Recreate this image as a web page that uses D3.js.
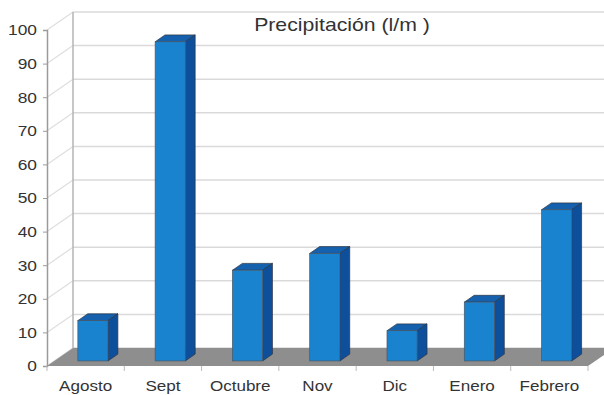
<!DOCTYPE html>
<html>
<head>
<meta charset="utf-8">
<script src="https://cdn.jsdelivr.net/npm/d3@7"></script>
<style>
  body { margin: 0; background: #fff; }
  text { font-family: "Liberation Sans", Arial, sans-serif; fill: #333; }
</style>
</head>
<body>
<div id="chart"></div>
<script>
var months = ["Agosto", "Sept", "Octubre", "Nov", "Dic", "Enero", "Febrero"];
var precip = [12, 95, 27, 32, 9, 17.5, 45];
var yTicks = [0, 10, 20, 30, 40, 50, 60, 70, 80, 90, 100];
var title = "Precipitación (l/m )";

var width = 604, height = 395;
var DX = 26, DY = -18;      // full depth of the 3d box
var f0 = 0.28, f1 = 0.66;   // bar depth, as fraction of box depth

var svg = d3.select("#chart")
    .append("svg")
    .attr("width", width)
    .attr("height", height);

var x = d3.scaleBand()
    .domain(months)
    .range([47, 588])
    .paddingInner(0.61)
    .paddingOuter(0.305);

var y = d3.scaleLinear()
    .domain([0, 100])
    .range([366, 30]);

var x0 = 47, x1 = 588;

// back wall gridlines
svg.selectAll(".grid")
    .data(yTicks)
    .enter()
    .append("line")
    .attr("x1", x0 + DX)
    .attr("x2", x1 + DX)
    .attr("y1", function(d){ return y(d) + DY; })
    .attr("y2", function(d){ return y(d) + DY; })
    .attr("stroke", "#dadada")
    .attr("stroke-width", 1.5);

// side wall diagonals
svg.selectAll(".side")
    .data(yTicks)
    .enter()
    .append("line")
    .attr("x1", x0)
    .attr("x2", x0 + DX)
    .attr("y1", function(d){ return y(d); })
    .attr("y2", function(d){ return y(d) + DY; })
    .attr("stroke", "#dedede")
    .attr("stroke-width", 1.2);

// back wall vertical edge
svg.append("line")
    .attr("x1", x0 + DX).attr("x2", x0 + DX)
    .attr("y1", y(0) + DY).attr("y2", y(100) + DY)
    .attr("stroke", "#b5b5b5")
    .attr("stroke-width", 1.5);

// floor
svg.append("polygon")
    .attr("points", [[x0, y(0)], [x1, y(0)], [x1 + DX, y(0) + DY], [x0 + DX, y(0) + DY]].join(" "))
    .attr("fill", "#8e8e8e");

// y axis (front)
var yAxis = d3.axisLeft(y)
    .tickValues(yTicks)
    .tickSize(4)
    .tickPadding(5);

var gy = svg.append("g")
    .attr("transform", "translate(" + x0 + ",0)")
    .call(yAxis);
gy.select(".domain").attr("stroke", "#9a9a9a").attr("stroke-width", 1.5);
gy.selectAll(".tick line").attr("stroke", "#9a9a9a");
gy.selectAll(".tick text")
    .style("font-size", "15.5px")
    .attr("fill", "#333")
    .attr("transform", "scale(1.12,1)");

// x axis: labels at band centers, ticks at boundaries
var xAxis = d3.axisBottom(x).tickSize(0).tickPadding(14);
var gx = svg.append("g")
    .attr("transform", "translate(0," + y(0) + ")")
    .call(xAxis);
gx.select(".domain").remove();
gx.selectAll(".tick text")
    .style("font-size", "15.5px")
    .attr("fill", "#333")
    .attr("transform", "scale(1.1,1)");

svg.selectAll(".xtick")
    .data(d3.range(months.length + 1))
    .enter()
    .append("line")
    .attr("x1", function(i){ return x0 + i * x.step(); })
    .attr("x2", function(i){ return x0 + i * x.step(); })
    .attr("y1", y(0))
    .attr("y2", y(0) + 5)
    .attr("stroke", "#bbb");

// bars
var bars = svg.selectAll(".bar")
    .data(months.map(function(m, i){ return {m: m, v: precip[i]}; }))
    .enter()
    .append("g")
    .attr("class", "bar");

function pts(a){ return a.map(function(p){ return p.join(","); }).join(" "); }

bars.append("polygon") // top
    .attr("points", function(d){
        var xa = x(d.m) + f0 * DX, xb = xa + x.bandwidth();
        var yt = y(d.v) + f0 * DY, dd = (f1 - f0);
        return pts([[xa, yt], [xb, yt], [xb + dd * DX, yt + dd * DY], [xa + dd * DX, yt + dd * DY]]);
    })
    .attr("fill", "#1561ad")
    .attr("stroke", "#2b3440")
    .attr("stroke-width", 0.7);

bars.append("polygon") // side
    .attr("points", function(d){
        var xb = x(d.m) + f0 * DX + x.bandwidth();
        var yt = y(d.v) + f0 * DY, yb = y(0) + f0 * DY, dd = (f1 - f0);
        return pts([[xb, yt], [xb + dd * DX, yt + dd * DY], [xb + dd * DX, yb + dd * DY], [xb, yb]]);
    })
    .attr("fill", "#0e4f9c")
    .attr("stroke", "#2b3440")
    .attr("stroke-width", 0.7);

bars.append("rect") // front
    .attr("x", function(d){ return x(d.m) + f0 * DX; })
    .attr("y", function(d){ return y(d.v) + f0 * DY; })
    .attr("width", x.bandwidth())
    .attr("height", function(d){ return y(0) - y(d.v); })
    .attr("fill", "#1983cf")
    .attr("stroke", "#4a5866")
    .attr("stroke-width", 0.7);

// title
svg.append("text")
    .attr("transform", "translate(342,31) scale(1.18,1)")
    .attr("text-anchor", "middle")
    .style("font-size", "18px")
    .text(title);
</script>
</body>
</html>
